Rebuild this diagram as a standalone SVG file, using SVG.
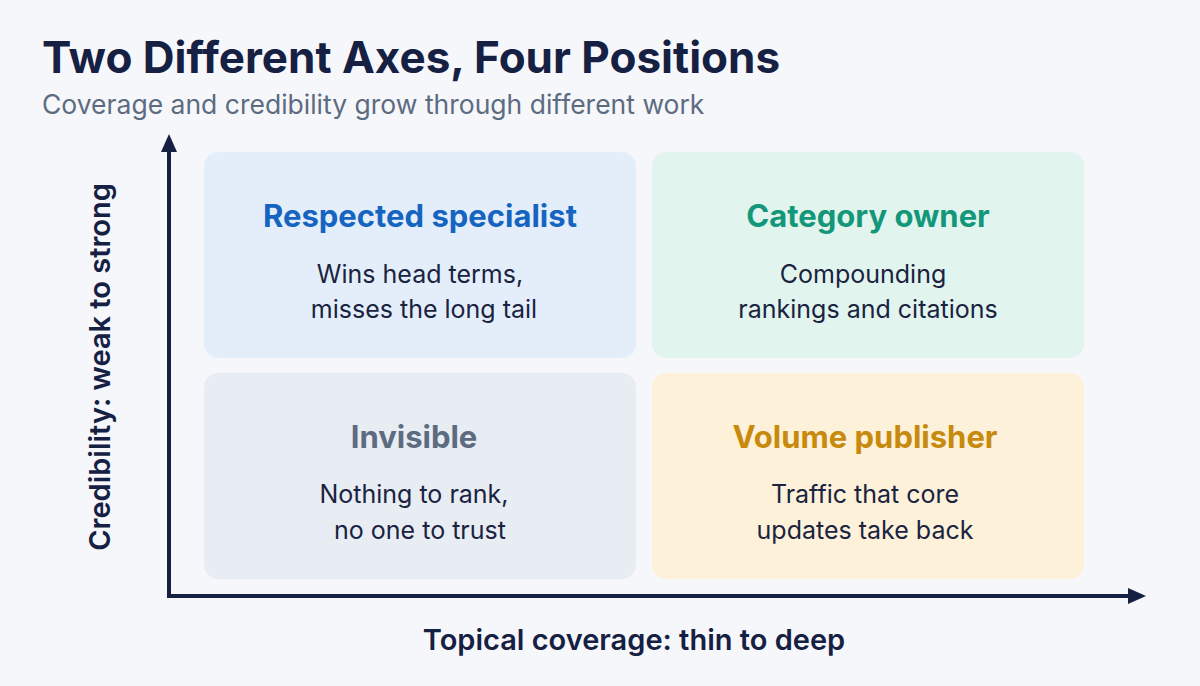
<svg xmlns="http://www.w3.org/2000/svg" width="1200" height="686" viewBox="0 0 1200 686">
<style>
text{font-family:Inter,"Liberation Sans",sans-serif}
.t{font-size:31px;font-weight:700;text-anchor:middle}
.b{font-size:25px;fill:#1a2340;text-anchor:middle}
.ax{font-size:29px;font-weight:600;fill:#152042}
</style>
<defs><marker id="ar" markerWidth="18" markerHeight="18" refX="14" refY="8" orient="auto" markerUnits="userSpaceOnUse"><path d="M0,0 L18,8 L0,16 z" fill="#152042"/></marker></defs>
<rect width="1200" height="686" fill="#f5f7fb"/>
<text x="42" y="73" font-size="44" font-weight="700" fill="#152042">Two Different Axes, Four Positions</text>
<text x="42" y="114" font-size="26.5" fill="#5d6b80">Coverage and credibility grow through different work</text>
<g id="q1"><rect x="204" y="152" width="432" height="206" rx="14" fill="#e4eefb"/><text class="t" x="420" y="227" fill="#1565c0">Respected specialist</text><text class="b" x="420" y="283">Wins head terms,</text><text class="b" x="424" y="318">misses the long tail</text></g>
<g id="q2"><rect x="652" y="152" width="432" height="206" rx="14" fill="#e2f4ee"/><text class="t" x="868" y="227" fill="#13977a">Category owner</text><text class="b" x="863" y="283">Compounding</text><text class="b" x="868" y="318">rankings and citations</text></g>
<g id="q3"><rect x="204" y="373" width="432" height="206" rx="14" fill="#e8ecf3"/><text class="t" x="414" y="448" fill="#5d6b80">Invisible</text><text class="b" x="414" y="503">Nothing to rank,</text><text class="b" x="420" y="539">no one to trust</text></g>
<g id="q4"><rect x="652" y="373" width="432" height="206" rx="14" fill="#fdf1d9"/><text class="t" x="865" y="448" fill="#c88a0c">Volume publisher</text><text class="b" x="865" y="503">Traffic that core</text><text class="b" x="865" y="539">updates take back</text></g>
<g id="connectors" stroke="#152042" stroke-width="4" fill="none">
<line x1="169" y1="596" x2="169" y2="138" marker-end="url(#ar)"/>
<line x1="167" y1="596" x2="1142" y2="596" marker-end="url(#ar)"/>
</g>
<text class="ax" x="634" y="650" text-anchor="middle">Topical coverage: thin to deep</text>
<text class="ax" transform="translate(110,367) rotate(-90)" text-anchor="middle">Credibility: weak to strong</text>
</svg>
